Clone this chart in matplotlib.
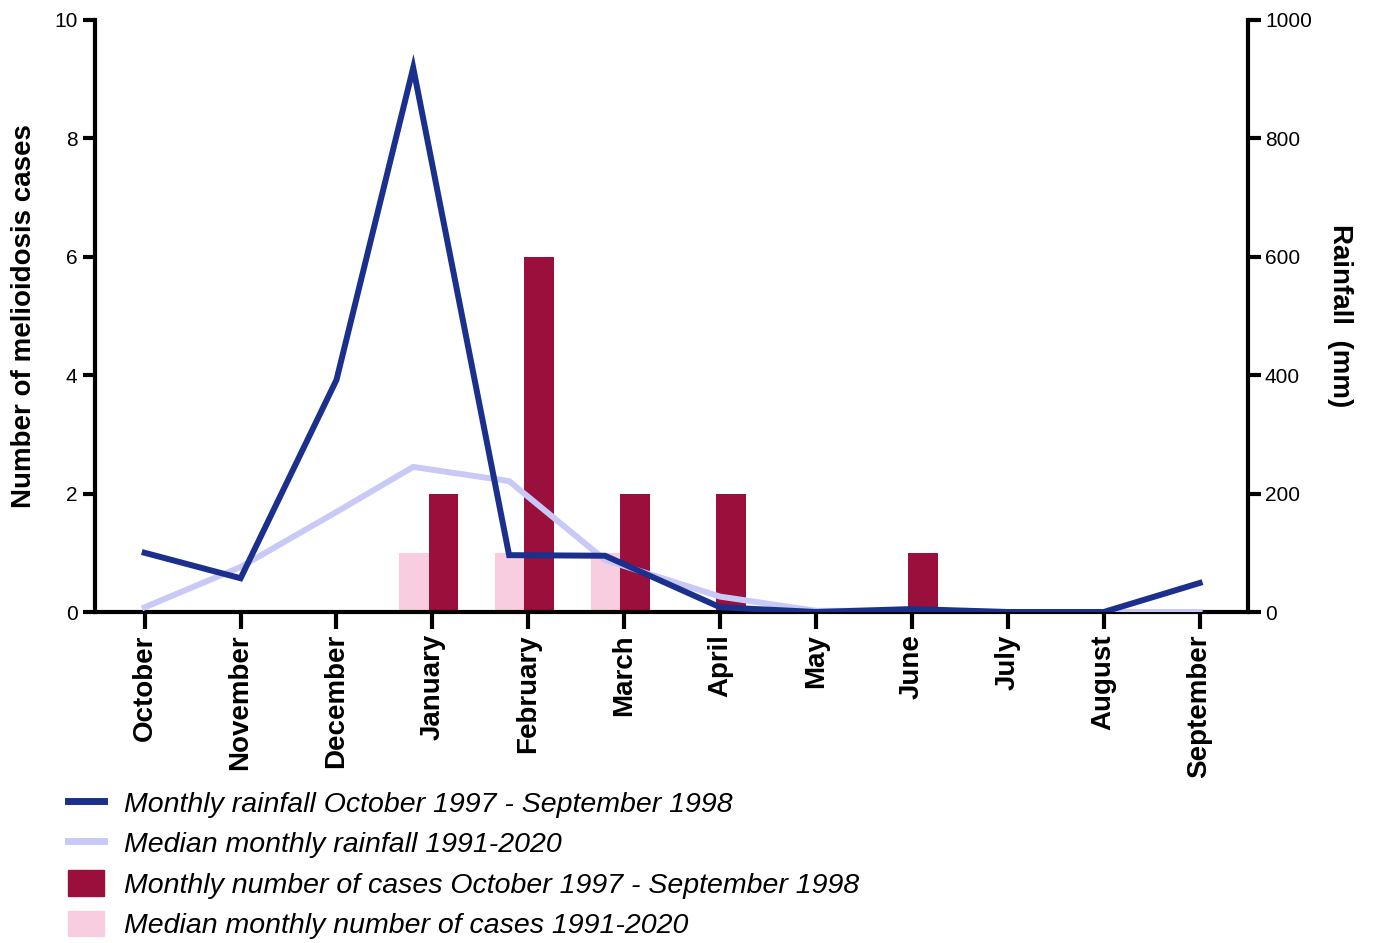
import numpy as np
import matplotlib.pyplot as plt
from matplotlib.lines import Line2D
from matplotlib.patches import Patch

plt.rcParams['font.family'] = ['Liberation Sans', 'DejaVu Sans']

months = ['October', 'November', 'December', 'January', 'February', 'March',
          'April', 'May', 'June', 'July', 'August', 'September']
cases_9798 = [0, 0, 0, 2, 6, 2, 2, 0, 1, 0, 0, 0]
cases_median = [0, 0, 0, 1, 1, 1, 0, 0, 0, 0, 0, 0]
# rainfall points as placed in the original figure (Jan-Mar sit left of their ticks)
rain_x = [0, 1, 2, 2.8, 3.8, 4.8, 6, 7, 8, 9, 10, 11]
rain_9798 = [100, 57, 392, 919, 96, 95, 8, 0, 5, 0, 0, 49]
rain_median = [8, 76, 169, 245, 221, 88, 26, 2, 2, 0, 0, 0]

dark_blue = '#1b2f8c'
light_blue = '#c9c9f7'
dark_red = '#9a0f3c'
pink = '#f9cde0'

fig = plt.figure(figsize=(13.74, 9.43), dpi=100)
ax = fig.add_axes([0.069, 0.351, 0.839, 0.628])
ax2 = ax.twinx()

x = np.arange(len(months))
w = 0.31
ax.bar(x - 0.195, cases_median, w, color=pink, zorder=2)
ax.bar(x + 0.115, cases_9798, w, color=dark_red, zorder=2)

ax2.plot(rain_x, rain_median, c=light_blue, lw=4.3, solid_joinstyle='miter')
ax2.plot(rain_x, rain_9798, c=dark_blue, lw=4.3, solid_joinstyle='miter')

ax.set_xlim(-0.52, 11.5)
ax.set_ylim(0, 10)
ax2.set_ylim(0, 1000)
ax.set_yticks([0, 2, 4, 6, 8, 10])
ax2.set_yticks([0, 200, 400, 600, 800, 1000])
ax.set_xticks(x)

for a in (ax, ax2):
    a.spines['top'].set_visible(False)
    for s in a.spines.values():
        s.set_linewidth(3)
    a.tick_params(axis='y', width=3, length=9, labelsize=15)
ax.tick_params(axis='x', width=3, length=12, pad=4)
ax.set_xticklabels(months, rotation=90, fontsize=20, fontweight='bold')
ax.spines['right'].set_visible(False)
ax2.spines['left'].set_visible(False)
ax2.spines['bottom'].set_visible(False)

ax.set_ylabel('Number of melioidosis cases', fontsize=20, fontweight='bold', labelpad=12)
ax2.set_ylabel('Rainfall  (mm)', fontsize=20, fontweight='bold', rotation=270, labelpad=30)

ax.set_zorder(ax2.get_zorder() - 1)
ax2.patch.set_visible(False)

handles = [
    Line2D([], [], c=dark_blue, lw=5),
    Line2D([], [], c=light_blue, lw=5),
    Patch(color=dark_red),
    Patch(color=pink),
]
labels = [
    'Monthly rainfall October 1997 - September 1998',
    'Median monthly rainfall 1991-2020',
    'Monthly number of cases October 1997 - September 1998',
    'Median monthly number of cases 1991-2020',
]
fig.legend(handles, labels, loc='upper left', bbox_to_anchor=(0.031, 0.19),
           frameon=False, handlelength=1.25, handleheight=1.0, handletextpad=0.7,
           labelspacing=0.42,
           prop={'style': 'italic', 'size': 20.5})

fig.savefig('out.png', dpi=100)
